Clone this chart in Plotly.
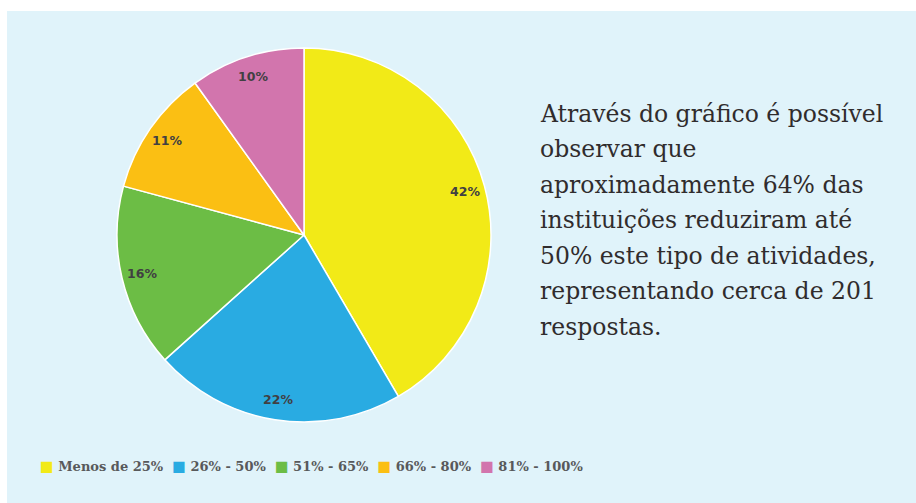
import math
import plotly.graph_objects as go

categories = ["Menos de 25%", "26% - 50%", "51% - 65%", "66% - 80%", "81% - 100%"]
values = [42, 22, 16, 11, 10]
colors = ["#f2ea17", "#29abe2", "#6cbd45", "#fbbf13", "#d275ad"]
paragraph = [
    "Através do gráfico é possível",
    "observar que",
    "aproximadamente 64% das",
    "instituições reduziram até",
    "50% este tipo de atividades,",
    "representando cerca de 201",
    "respostas.",
]

W, H = 916, 503
OFF = 0  # body margin removed by post_script


def px(x):
    return (x - OFF) / W


def py(y):
    return 1 - (y - OFF) / H


CX, CY, R = 304, 235, 187

fig = go.Figure()
fig.add_trace(go.Pie(
    labels=categories,
    values=values,
    textinfo="none",
    marker=dict(colors=colors, line=dict(color="white", width=1.5)),
    sort=False,
    direction="clockwise",
    rotation=0,
    domain=dict(x=[px(CX - R), px(CX + R)], y=[py(CY + R), py(CY - R)]),
    hoverinfo="label+percent",
    showlegend=False,
))

# slice labels placed near the rim at each slice's mid-angle
total = sum(values)
cum = 0
for v in values:
    mid = (cum + v / 2) / total * 2 * math.pi
    cum += v
    lx = CX + 0.89 * R * math.sin(mid)
    ly = CY - 0.89 * R * math.cos(mid)
    fig.add_annotation(
        text=f"{v}%", xref="paper", yref="paper", x=px(lx), y=py(ly),
        xanchor="center", yanchor="middle", showarrow=False,
        font=dict(family="DejaVu Sans", size=12.5, color="#414042", weight="bold"),
    )

# explanatory paragraph
for i, line in enumerate(paragraph):
    base = 121.7 + i * 35.55
    fig.add_annotation(
        text=line, xref="paper", yref="paper",
        x=px(538), y=py(base - 8),
        xanchor="left", yanchor="middle", align="left", showarrow=False,
        font=dict(family="DejaVu Serif", size=23.5, color="#302c2d"),
    )

# legend row
items = []
for c, col in zip(categories, colors):
    items.append(f"<span style='color:{col};font-family:DejaVu Sans;font-size:14.5px'>■</span> {c}")
fig.add_annotation(
    text="\u00a0\u00a0".join(items), xref="paper", yref="paper",
    x=px(38), y=py(466),
    xanchor="left", yanchor="middle", align="left", showarrow=False,
    font=dict(family="DejaVu Serif", size=13, color="#58595b", weight="bold"),
)

fig.update_layout(
    width=W, height=H,
    margin=dict(l=0, r=0, t=0, b=0),
    paper_bgcolor="white",
    plot_bgcolor="white",
    showlegend=False,
    shapes=[dict(type="rect", xref="paper", yref="paper",
                 x0=px(7), x1=1, y0=0, y1=py(11),
                 fillcolor="#e0f3fa", line=dict(width=0), layer="below")],
)

fig.write_html("out.html", config={"displayModeBar": False},
               post_script="document.body.style.margin='0';")
